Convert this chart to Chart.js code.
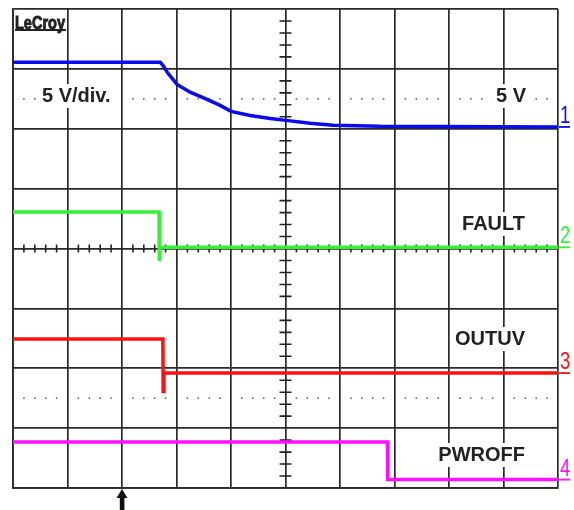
<!DOCTYPE html>
<html>
<head>
<meta charset="utf-8">
<script src="https://cdn.jsdelivr.net/npm/chart.js@4.4.0/dist/chart.umd.min.js"></script>
<style>
body { margin: 0; background: #fff; }
#wrap { width: 574px; height: 510px; }
</style>
</head>
<body>
<div id="wrap"><canvas id="scope" width="574" height="510"></canvas></div>
<script>
// all values in screen divisions: 10 across, 8 high, 0 = centre line
const ch1X = [0, 2.70, 2.75, 2.84, 3.01, 3.25, 3.56, 3.80, 4.00, 4.35, 4.72, 5.01, 5.45, 5.87, 6.73, 10];
const ch1Y = [3.11, 3.11, 3.06, 2.93, 2.74, 2.61, 2.49, 2.39, 2.29, 2.22, 2.17, 2.14, 2.09, 2.06, 2.04, 2.03];

const ch2X = [0, 2.68, 2.685, 2.70, 10];
const ch2Y = [0.61, 0.61, -0.21, 0.02, 0.02];

const ch3X = [0, 2.75, 2.755, 2.77, 10];
const ch3Y = [-1.51, -1.51, -2.39, -2.08, -2.08];

const ch4X = [0, 6.87, 6.875, 10];
const ch4Y = [-3.23, -3.23, -3.86, -3.86];

const chColors = ['#0a0af0', '#33f033', '#ff1010', '#ff10ff'];
const chNumbers = ['1', '2', '3', '4'];
const scaleText = ['5 V/div.', '5 V'];
const signalNames = ['FAULT', 'OUTUV', 'PWROFF'];

function pts(xs, ys) {
    return xs.map((x, i) => ({ x: x, y: ys[i] }));
}

const traces = [pts(ch1X, ch1Y), pts(ch2X, ch2Y), pts(ch3X, ch3Y), pts(ch4X, ch4Y)];

function boxText(ctx, text, x, y, align) {
    ctx.font = 'bold 20px "Liberation Sans", Arial, sans-serif';
    const w = ctx.measureText(text).width;
    const left = align === 'right' ? x - w : x;
    ctx.fillStyle = '#fff';
    ctx.fillRect(left - 4, y - 18, w + 8, 24);
    ctx.fillStyle = '#222';
    ctx.textAlign = 'left';
    ctx.textBaseline = 'alphabetic';
    ctx.fillText(text, left, y);
}

const scopePlugin = {
    id: 'scope',
    beforeDatasetsDraw(chart) {
        const ctx = chart.ctx;
        const xs = chart.scales.x, ys = chart.scales.y;
        const x0 = xs.getPixelForValue(5), y0 = ys.getPixelForValue(0);
        ctx.save();
        ctx.strokeStyle = '#222';
        ctx.lineWidth = 1.6;
        ctx.beginPath();
        for (let i = 1; i < 50; i++) {
            if (i % 5 === 0) continue;
            const px = xs.getPixelForValue(i / 5);
            ctx.moveTo(px, y0 - 4);
            ctx.lineTo(px, y0 + 4);
        }
        for (let i = -19; i < 20; i++) {
            if (i % 5 === 0) continue;
            const py = ys.getPixelForValue(i / 5);
            ctx.moveTo(x0 - 6, py);
            ctx.lineTo(x0 + 6, py);
        }
        ctx.stroke();
        // dotted lines at +/- 2.5 div
        ctx.fillStyle = '#555';
        [2.5, -2.5].forEach(v => {
            const py = ys.getPixelForValue(v);
            for (let i = 1; i < 50; i++) {
                if (i % 5 === 0) continue;
                ctx.fillRect(xs.getPixelForValue(i / 5) - 0.75, py - 0.75, 1.5, 1.5);
            }
        });
        ctx.restore();
    },
    afterDatasetsDraw(chart) {
        const ctx = chart.ctx;
        const xs = chart.scales.x, ys = chart.scales.y;
        const area = chart.chartArea;
        ctx.save();

        // logo, squeezed sideways and thickened
        ctx.font = 'bold 18px "Liberation Sans", sans-serif';
        ctx.fillStyle = '#222';
        ctx.strokeStyle = '#222';
        ctx.lineWidth = 0.9;
        ctx.textBaseline = 'alphabetic';
        ctx.textAlign = 'left';
        const lw = ctx.measureText('LeCroy').width;
        ctx.save();
        ctx.translate(15, 29);
        ctx.scale(50 / lw, 1);
        ctx.fillText('LeCroy', 0, 0);
        ctx.strokeText('LeCroy', 0, 0);
        ctx.restore();
        ctx.fillRect(15, 29, 51, 2);

        // text labels
        boxText(ctx, scaleText[0], 42, 102, 'left');
        boxText(ctx, scaleText[1], 526, 102, 'right');
        boxText(ctx, signalNames[0], 525, 230, 'right');
        boxText(ctx, signalNames[1], 525, 345, 'right');
        boxText(ctx, signalNames[2], 525, 461, 'right');

        // channel markers at right edge
        ctx.font = '23px "Liberation Sans Narrow", "Liberation Sans", sans-serif';
        traces.forEach((t, i) => {
            const py = ys.getPixelForValue(t[t.length - 1].y);
            ctx.fillStyle = chColors[i];
            ctx.fillRect(area.right + 1, py - 0.9, 11, 1.8);
            ctx.save();
            ctx.translate(area.right + 2, py - 4);
            ctx.scale(0.8, 1);
            ctx.fillText(chNumbers[i], 0, 0);
            ctx.restore();
        });

        // trigger arrow
        const ax = xs.getPixelForValue(2);
        ctx.fillStyle = '#111';
        ctx.beginPath();
        ctx.moveTo(ax, area.bottom + 1);
        ctx.lineTo(ax - 5.5, area.bottom + 10);
        ctx.lineTo(ax + 5.5, area.bottom + 10);
        ctx.closePath();
        ctx.fill();
        ctx.fillRect(ax - 2.2, area.bottom + 9, 4.6, 16);
        ctx.restore();
    }
};

const ctx = document.getElementById('scope').getContext('2d');
const myChart = new Chart(ctx, {
    type: 'line',
    data: {
        datasets: traces.map((t, i) => ({
            data: t,
            borderColor: chColors[i],
            borderWidth: 3.5,
            pointRadius: 0,
            tension: 0
        }))
    },
    options: {
        responsive: false,
        animation: false,
        layout: { padding: { left: 13, top: 9, right: 16, bottom: 22 } },
        plugins: { legend: { display: false }, tooltip: { enabled: false } },
        scales: {
            x: {
                type: 'linear', min: 0, max: 10,
                ticks: { display: false, stepSize: 1 },
                grid: { color: '#2a2a2a', lineWidth: 1.7, drawTicks: false },
                border: { display: true, color: '#2a2a2a', width: 1.8 }
            },
            y: {
                type: 'linear', min: -4, max: 4,
                ticks: { display: false, stepSize: 1 },
                grid: { color: '#2a2a2a', lineWidth: 1.7, drawTicks: false },
                border: { display: true, color: '#2a2a2a', width: 1.8 }
            }
        }
    },
    plugins: [scopePlugin]
});
</script>
</body>
</html>
